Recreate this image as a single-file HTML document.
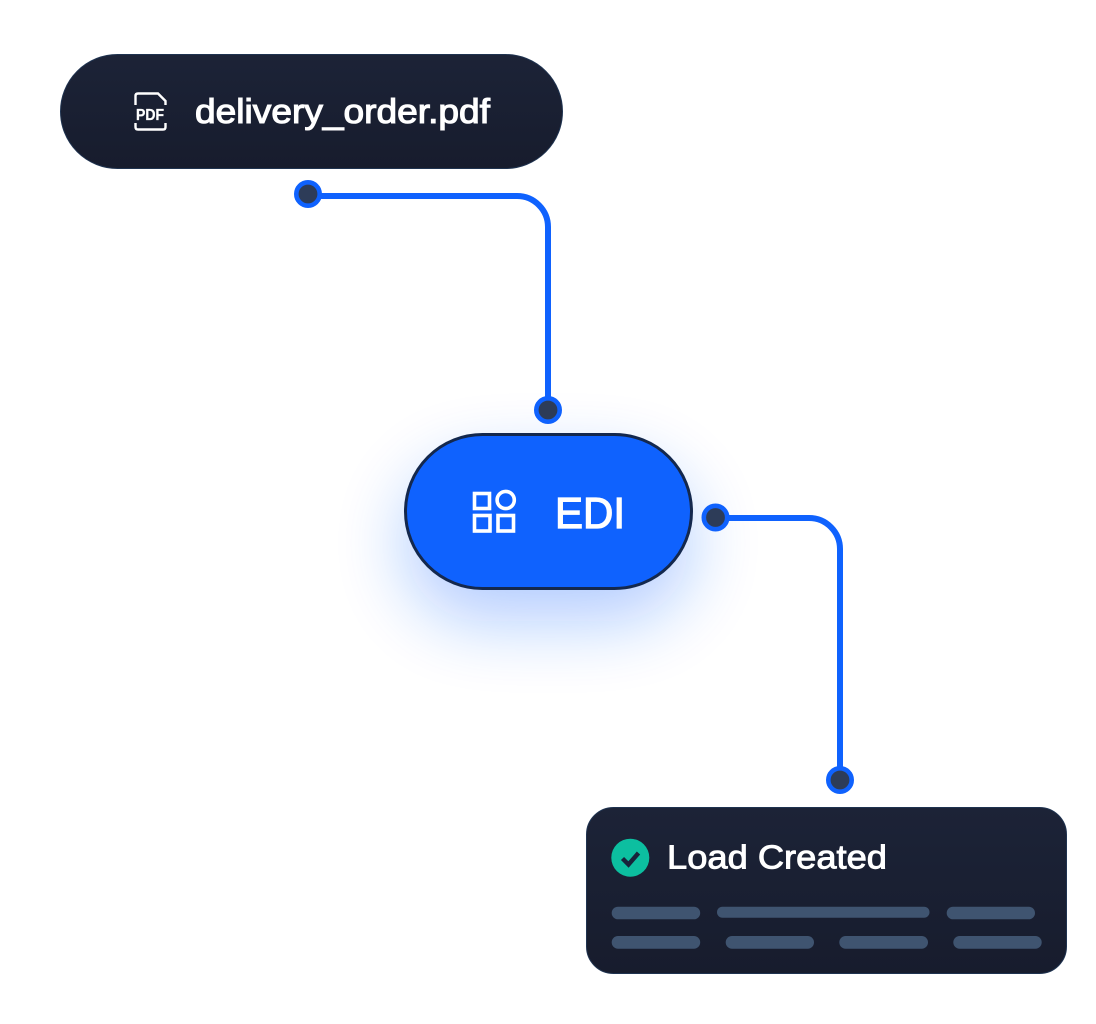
<!DOCTYPE html>
<html>
<head>
<meta charset="utf-8">
<style>
html,body{margin:0;padding:0;background:#fff;}
svg{display:block;}
text{font-family:"Liberation Sans",sans-serif;fill:#fff;}
</style>
</head>
<body>
<svg width="1096" height="1024" viewBox="0 0 1096 1024" xmlns="http://www.w3.org/2000/svg">
<defs>
<linearGradient id="g" x1="0" y1="0" x2="0" y2="1">
<stop offset="0" stop-color="#1c2337"/>
<stop offset="1" stop-color="#171c2d"/>
</linearGradient>
<filter id="glow" x="-80%" y="-100%" width="260%" height="300%">
<feGaussianBlur stdDeviation="36"/>
</filter>
</defs>
<rect width="1096" height="1024" fill="#ffffff"/>

<!-- glow -->
<rect x="405" y="465" width="286" height="156" rx="78" fill="#0f62fe" opacity="0.32" filter="url(#glow)"/>

<!-- connectors -->
<path d="M308 196H517A31 31 0 0 1 548 227V410" fill="none" stroke="#0f62fe" stroke-width="6"/>
<path d="M716 518H809A31 31 0 0 1 840 549V780" fill="none" stroke="#0f62fe" stroke-width="6"/>
<g fill="#2d3c58" stroke="#0f62fe" stroke-width="4.600">
<circle cx="308" cy="194" r="11.700"/>
<circle cx="548" cy="410" r="11.700"/>
<circle cx="715.500" cy="517.500" r="11.700"/>
<circle cx="840" cy="780" r="11.700"/>
</g>

<!-- PDF pill -->
<rect x="60.500" y="54.500" width="502" height="114" rx="57" fill="url(#g)" stroke="#1f3350" stroke-width="1"/>
<path d="M135.500 105V96Q135.500 93.500 138 93.500H158L165.500 101V105" fill="none" stroke="#fff" stroke-width="2.400"/>
<path d="M135.500 123V127Q135.500 129.500 138 129.500H163Q165.500 129.500 165.500 127V123" fill="none" stroke="#fff" stroke-width="2.400"/>
<text x="136" y="120" font-size="16" font-weight="700" stroke="#fff" stroke-width="0.300" textLength="28" lengthAdjust="spacingAndGlyphs">PDF</text>
<text x="195" y="123" font-size="34" stroke="#fff" stroke-width="1.100" textLength="295" lengthAdjust="spacingAndGlyphs">delivery_order.pdf</text>

<!-- EDI pill -->
<rect x="405.500" y="434.500" width="286" height="154" rx="77" fill="#0f62fe" stroke="#14284d" stroke-width="3"/>
<g fill="none" stroke="#fff" stroke-width="3.600">
<rect x="474.500" y="493.500" width="15" height="15"/>
<circle cx="505.700" cy="500" r="8.600"/>
<rect x="474.500" y="515.500" width="15.500" height="15.500"/>
<rect x="498" y="515.500" width="15.500" height="15.500"/>
</g>
<text x="555" y="528" font-size="44" stroke="#fff" stroke-width="1.300" textLength="70" lengthAdjust="spacingAndGlyphs">EDI</text>

<!-- Load card -->
<rect x="586.500" y="807.500" width="480" height="166" rx="27" fill="url(#g)" stroke="#1f3350" stroke-width="1"/>
<circle cx="630.300" cy="857.700" r="19" fill="#0cbfa0"/>
<path d="M622.500 858.500L628.500 864.500L638.500 853" fill="none" stroke="#18233a" stroke-width="4.400"/>
<text x="667" y="868.500" font-size="33.500" stroke="#fff" stroke-width="0.900" textLength="220" lengthAdjust="spacingAndGlyphs">Load Created</text>

<g fill="#3f5470">
<rect x="611.700" y="906.700" width="88.500" height="12.600" rx="6.300"/>
<rect x="717" y="906.700" width="212.500" height="11" rx="5.500"/>
<rect x="946.700" y="906.700" width="88.300" height="12.600" rx="6.300"/>
<rect x="611.700" y="936" width="88.500" height="12.700" rx="6.300"/>
<rect x="725.700" y="936" width="88.300" height="12.700" rx="6.300"/>
<rect x="839.300" y="936" width="88.700" height="12.700" rx="6.300"/>
<rect x="953.300" y="936" width="88.400" height="12.700" rx="6.300"/>
</g>
</svg>
</body>
</html>
